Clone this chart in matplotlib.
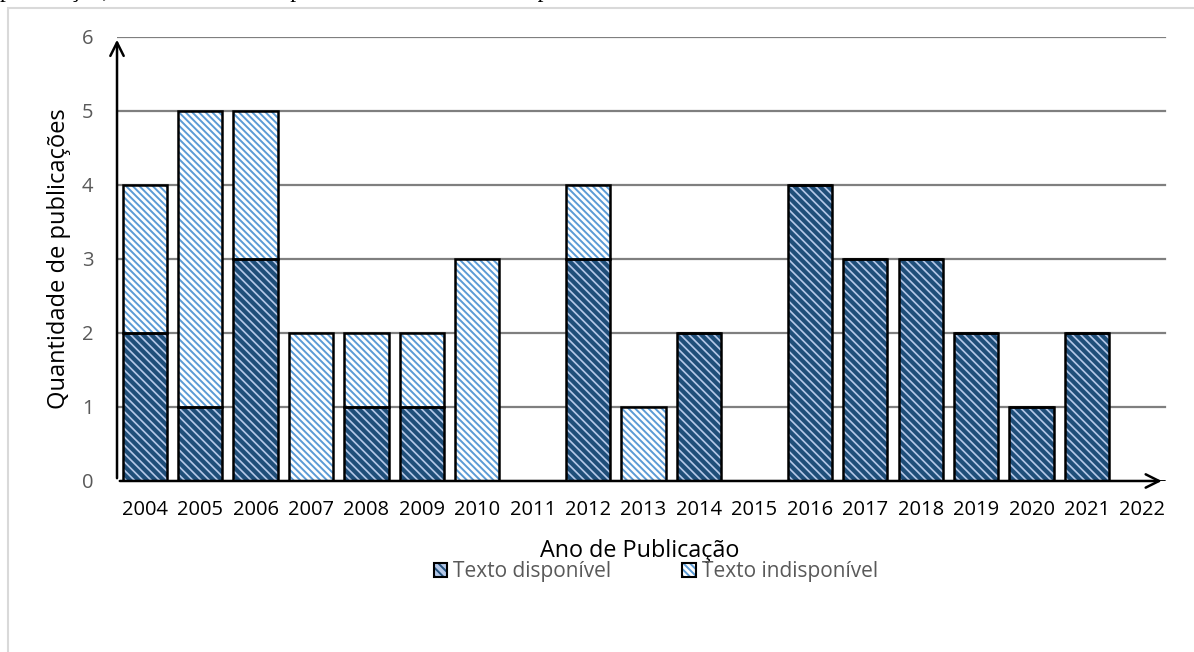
import matplotlib.pyplot as plt
import matplotlib.patches as mpatches
import numpy as np

anos = ['2004', '2005', '2006', '2007', '2008', '2009', '2010', '2011', '2012', '2013',
        '2014', '2015', '2016', '2017', '2018', '2019', '2020', '2021', '2022']
disponivel = [2, 1, 3, 0, 1, 1, 0, 0, 3, 0, 2, 0, 4, 3, 3, 2, 1, 2, 0]
indisponivel = [2, 4, 2, 2, 1, 1, 3, 0, 1, 1, 0, 0, 0, 0, 0, 0, 0, 0, 0]

plt.rcParams['font.family'] = ['Open Sans', 'DejaVu Sans']

fig = plt.figure(figsize=(11.94, 6.52), dpi=100)
ax = fig.add_axes([0.098, 0.2623, 0.882, 0.681])

# moldura do grafico (cinza claro)
fig.patches.append(mpatches.Rectangle((8 / 1194, -0.1), 1.2, 1 - 8 / 652 + 0.1,
                                      transform=fig.transFigure, fill=False,
                                      edgecolor='#d9d9d9', lw=1.5))
# texto do documento, cortado no topo
fig.text(0.0, 1.0 + 3 / 652, 'publicação, considerando a disponibilidade do texto completo',
         family='Liberation Serif', fontsize=17, va='baseline', ha='left')

x = np.arange(len(anos))
w = 0.8
d = np.array(disponivel)
i = np.array(indisponivel)

# grade
for yv in range(1, 7):
    ax.plot([-0.5, 18.4], [yv, yv], color='#7f7f7f', lw=1.6, zorder=1)

plt.rcParams['hatch.linewidth'] = 3.0
ax.bar(x, d, w, color='#b4c7e7', edgecolor='#1f4e79', hatch='\\\\\\\\', lw=0, zorder=2)
h1 = mpatches.Patch(facecolor='#b4c7e7', edgecolor='#1f4e79', hatch='\\\\\\\\', lw=0)
ax.bar(x, d, w, fill=False, edgecolor='black', lw=1.8, zorder=3)
plt.rcParams['hatch.linewidth'] = 1.4
ax.bar(x, i, w, bottom=d, color='white', edgecolor='#5b9bd5', hatch='\\\\\\\\\\', lw=0, zorder=2)
h2 = mpatches.Patch(facecolor='white', edgecolor='#5b9bd5', hatch='\\\\\\\\\\', lw=0)
ax.bar(x, i, w, bottom=d, fill=False, edgecolor='black', lw=1.8, zorder=3)

ax.set_xlim(-0.5, 18.5)
ax.set_ylim(0, 6)
for s in ax.spines.values():
    s.set_visible(False)
ax.set_xticks(x)
ax.set_xticklabels(anos, fontsize=14.5, color='black')
ax.set_yticks(range(7))
ax.set_yticklabels([str(v) for v in range(7)], fontsize=14.5, color='#595959')
ax.tick_params(length=0)
ax.tick_params(axis='x', pad=14)
ax.tick_params(axis='y', pad=17)

# eixos com setas
ax.annotate('', xy=(18.4, 0), xytext=(-0.5, 0), xycoords='data',
            arrowprops=dict(arrowstyle='->', color='black', lw=1.8, mutation_scale=24),
            annotation_clip=False, zorder=4)
ax.annotate('', xy=(-0.5, 6.0), xytext=(-0.5, 0), xycoords='data',
            arrowprops=dict(arrowstyle='->', color='black', lw=1.8, mutation_scale=24),
            annotation_clip=False, zorder=4)

ax.set_xlabel('Ano de Publicação', fontsize=16.8, va='center')
ax.xaxis.set_label_coords((640 - 117) / 1053, (481 - 551) / 444)
ax.set_ylabel('Quantidade de publicações', fontsize=17, va='center')
ax.yaxis.set_label_coords((59 - 117) / 1053, 0.5)

borda = mpatches.Patch(facecolor='none', edgecolor='black', lw=1.5)
leg = fig.legend([(h1, borda), (h2, borda)], ['Texto disponível', 'Texto indisponível'],
                 loc='center', bbox_to_anchor=(656 / 1194, 1 - 572 / 652), ncol=2,
                 frameon=False, fontsize=15, handlelength=0.65, handleheight=0.65,
                 handletextpad=0.3, columnspacing=3.4, borderpad=0)
for t in leg.get_texts():
    t.set_color('#595959')

fig.savefig('out.png', dpi=100)
